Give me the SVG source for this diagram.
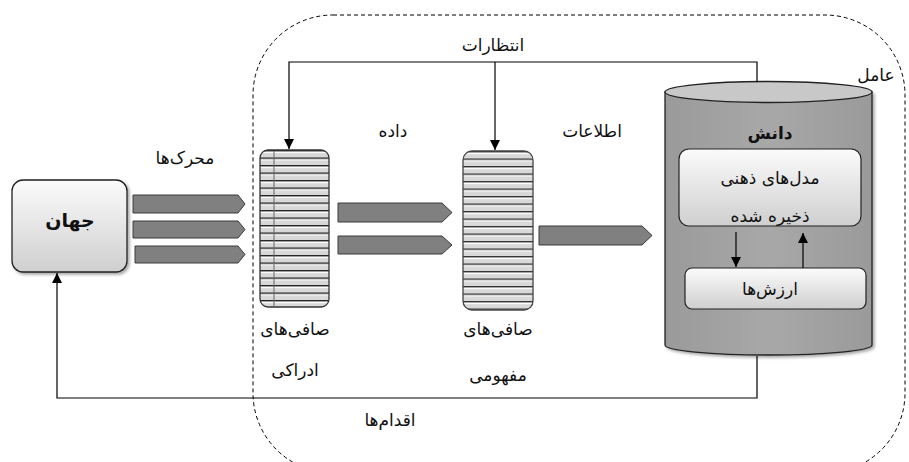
<svg xmlns="http://www.w3.org/2000/svg" width="909" height="462" viewBox="0 0 909 462">
<defs>
<linearGradient id="boxg" x1="0" y1="0" x2="0" y2="1"><stop offset="0" stop-color="#fbfbfb"/><stop offset="1" stop-color="#cfcfcf"/></linearGradient>
<linearGradient id="cylg" x1="0" y1="0" x2="1" y2="0"><stop offset="0" stop-color="#9a9a9a"/><stop offset="0.5" stop-color="#a8a8a8"/><stop offset="1" stop-color="#9a9a9a"/></linearGradient>
<pattern id="stripes" x="0" y="150" width="20" height="7.5" patternUnits="userSpaceOnUse"><rect width="20" height="7.5" fill="#ffffff"/><rect y="3" width="20" height="4.5" fill="#d8d8d8"/><line x1="0" y1="0.7" x2="20" y2="0.7" stroke="#222" stroke-width="1.4"/></pattern>
<pattern id="stripes2" x="0" y="151" width="20" height="7.5" patternUnits="userSpaceOnUse"><rect width="20" height="7.5" fill="#ffffff"/><rect y="3" width="20" height="4.5" fill="#d8d8d8"/><line x1="0" y1="0.7" x2="20" y2="0.7" stroke="#333" stroke-width="1.4"/></pattern>
<marker id="ah" viewBox="0 0 10 10" refX="10" refY="5" markerWidth="10" markerHeight="10" markerUnits="userSpaceOnUse" orient="auto"><path d="M0,0 L10,5 L0,10 z" fill="#000"/></marker>
<filter id="sh" x="-10%" y="-10%" width="130%" height="130%"><feDropShadow dx="2" dy="2" stdDeviation="1.5" flood-color="#000" flood-opacity="0.35"/></filter>
</defs>
<style>
text{font-family:"DejaVu Sans","Noto Sans",sans-serif;font-size:17px;fill:#111;text-anchor:middle}
.b{font-weight:bold;font-size:17px}
.ln{fill:none;stroke:#000;stroke-width:1.2}
.ga{fill:#808080;stroke:#3a3a3a;stroke-width:1}
</style>
<g id="agent-boundary"><rect x="253" y="15" width="652" height="458" rx="80" fill="none" stroke="#000" stroke-width="1" stroke-dasharray="4,3"/><text x="876" y="81">عامل</text></g>
<g id="world"><rect x="12" y="180" width="115" height="92" rx="11" fill="url(#boxg)" stroke="#222" stroke-width="1.3" filter="url(#sh)"/><text class="b" x="70" y="227" style="font-size:19px">جهان</text></g>
<g id="perceptual-filters"><rect x="260" y="150" width="69" height="157" rx="8" fill="url(#stripes)" stroke="#333" stroke-width="1.3"/><line x1="274" y1="151" x2="274" y2="306" stroke="#666" stroke-width="1"/><text x="295" y="335">صافی‌های</text><text x="295" y="376">ادراکی</text></g>
<g id="conceptual-filters"><rect x="463" y="151" width="70" height="159" rx="9" fill="url(#stripes2)" stroke="#444" stroke-width="1.3"/><text x="498" y="335">صافی‌های</text><text x="498" y="381">مفهومی</text></g>
<g id="knowledge">
<path d="M665,92 L665,345 A103.5,10 0 0 0 872,345 L872,92 Z" fill="url(#cylg)" stroke="#222" stroke-width="1.3" filter="url(#sh)"/>
<ellipse cx="768.5" cy="92" rx="103.5" ry="10.5" fill="#c8c8c8" stroke="#222" stroke-width="1.3"/>
<text class="b" x="770" y="139">دانش</text>
<g id="mental-models"><rect x="679" y="149" width="182" height="77" rx="10" fill="url(#boxg)" stroke="#222" stroke-width="1.2"/><text x="770" y="184">مدل‌های ذهنی</text><text x="770" y="222">ذخیره شده</text></g>
<g id="values"><rect x="685" y="268" width="181" height="41" rx="7" fill="url(#boxg)" stroke="#222" stroke-width="1.2"/><text x="770" y="295">ارزش‌ها</text></g>
</g>
<g id="connectors">
<polyline class="ln" points="757,82 757,62 289,62 289,149" marker-end="url(#ah)"/>
<line class="ln" x1="495" y1="62" x2="495" y2="150" marker-end="url(#ah)"/>
<polyline class="ln" points="757,356 757,398 57,398 57,273" marker-end="url(#ah)"/>
<line class="ln" x1="736" y1="232" x2="736" y2="267" marker-end="url(#ah)"/>
<line class="ln" x1="803" y1="268" x2="803" y2="233" marker-end="url(#ah)"/>
<polygon class="ga" points="133,195 238,195 245,204 238,213 133,213"/>
<polygon class="ga" points="133,221 238,221 245,229.5 238,238 133,238"/>
<polygon class="ga" points="135,246 238,246 245,254.5 238,263 135,263"/>
<polygon class="ga" points="338,203 442,203 452,212.5 442,222 338,222"/>
<polygon class="ga" points="338,236 442,236 452,245 442,254 338,254"/>
<polygon class="ga" points="539,226 642,226 652,235.5 642,245 539,245"/>
<text x="493" y="51">انتظارات</text>
<text x="185" y="164">محرک‌ها</text>
<text x="393" y="137">داده</text>
<text x="592" y="137">اطلاعات</text>
<text x="390" y="426">اقدام‌ها</text>
</g>
</svg>
